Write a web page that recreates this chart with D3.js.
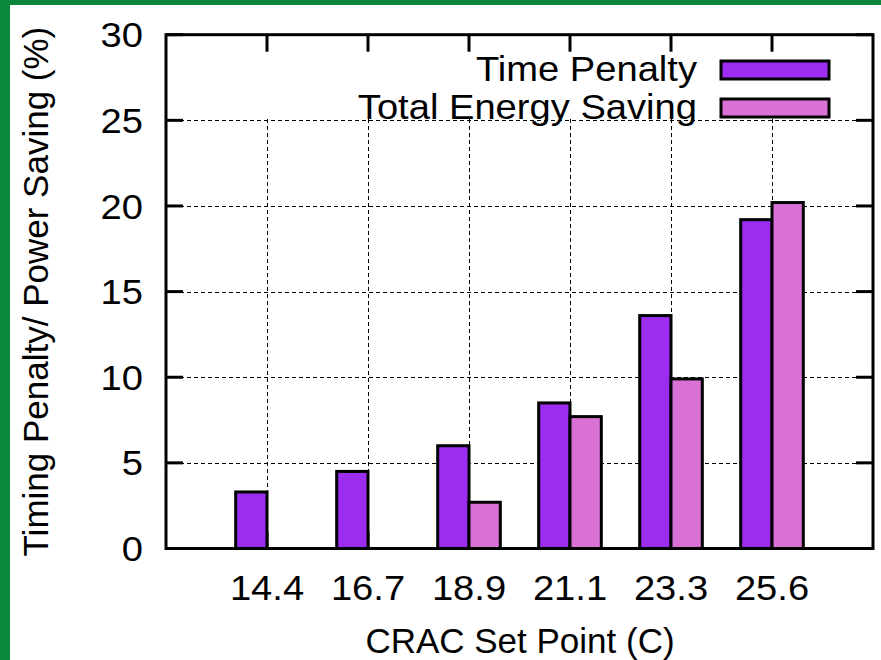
<!DOCTYPE html>
<html>
<head>
<meta charset="utf-8">
<script src="https://cdn.jsdelivr.net/npm/d3@7"></script>
<style>
  body { margin: 0; background: #fff; }
  text { font-family: "Liberation Sans", Arial, sans-serif; fill: #000; }
</style>
</head>
<body>
<div id="chart"></div>
<script>
// data
var setPoints = ["14.4", "16.7", "18.9", "21.1", "23.3", "25.6"];
var timePenalty = [3.3, 4.5, 6.0, 8.5, 13.6, 19.2];
var energySaving = [0, 0, 2.7, 7.7, 9.9, 20.2];
var seriesNames = ["Time Penalty", "Total Energy Saving"];
var seriesColors = ["#9b2cf0", "#da72d6"];
var yTicks = [0, 5, 10, 15, 20, 25, 30];

var W = 881, H = 660;
var plot = { left: 166, top: 34.7, right: 873, bottom: 548.5 };
var fontSize = 35;
var stretch = 1.09; // tick and key text is a bit wider than it is tall

var svg = d3.select("#chart").append("svg")
  .attr("width", W)
  .attr("height", H);

svg.append("rect").attr("width", W).attr("height", H).attr("fill", "#fff");
// green frame on the left and top edges
svg.append("rect").attr("x", 0).attr("y", 0).attr("width", 10).attr("height", H).attr("fill", "#0a873c");
svg.append("rect").attr("x", 0).attr("y", 0).attr("width", W).attr("height", 5).attr("fill", "#0a873c");

// x positions: category index, one empty slot at each side
var x = d3.scaleLinear().domain([-1, setPoints.length]).range([plot.left, plot.right]);
var y = d3.scaleLinear().domain([0, 30]).range([plot.bottom, plot.top]);
var barW = x(0.31) - x(0);

function label(g, px, py, anchor, txt, sx) {
  return g.append("text")
    .attr("transform", "translate(" + px + "," + py + ") scale(" + (sx || stretch) + ",1)")
    .attr("text-anchor", anchor)
    .style("font-size", fontSize + "px")
    .text(txt);
}

// grid
var grid = svg.append("g")
  .attr("stroke", "#000").attr("stroke-width", 1)
  .attr("stroke-dasharray", "4,3")
  .attr("shape-rendering", "crispEdges");
grid.selectAll(".hg").data(yTicks.slice(1, -1)).enter().append("line")
  .attr("x1", plot.left).attr("x2", plot.right)
  .attr("y1", d => Math.round(y(d)) + 0.5).attr("y2", d => Math.round(y(d)) + 0.5);
grid.selectAll(".vg").data(setPoints).enter().append("line")
  .attr("x1", (d, i) => Math.round(x(i)) + 0.5).attr("x2", (d, i) => Math.round(x(i)) + 0.5)
  .attr("y1", plot.top).attr("y2", plot.bottom);

// the key hides the grid behind it
svg.append("rect")
  .attr("x", x(0) - 0.5).attr("y", plot.top)
  .attr("width", 852 - x(0)).attr("height", y(25) - plot.top - 1.5)
  .attr("fill", "#fff");

// ticks (inward, mirrored)
var tickLen = 17;
var ticks = svg.append("g").attr("stroke", "#000").attr("stroke-width", 3);
yTicks.forEach(function (t) {
  ticks.append("line").attr("x1", plot.left).attr("x2", plot.left + tickLen).attr("y1", y(t)).attr("y2", y(t));
  ticks.append("line").attr("x1", plot.right).attr("x2", plot.right - tickLen).attr("y1", y(t)).attr("y2", y(t));
});
setPoints.forEach(function (s, i) {
  ticks.append("line").attr("x1", x(i)).attr("x2", x(i)).attr("y1", plot.top).attr("y2", plot.top + tickLen);
  ticks.append("line").attr("x1", x(i)).attr("x2", x(i)).attr("y1", plot.bottom).attr("y2", plot.bottom - tickLen);
});

// bars
var bars = svg.append("g").attr("stroke", "#000").attr("stroke-width", 3);
[timePenalty, energySaving].forEach(function (vals, k) {
  bars.selectAll(".b" + k).data(vals).enter().append("rect")
    .attr("x", (d, i) => x(i) + (k - 1) * barW)
    .attr("y", d => y(d))
    .attr("width", barW)
    .attr("height", d => y(0) - y(d))
    .attr("fill", seriesColors[k]);
});

// border
svg.append("rect")
  .attr("x", plot.left).attr("y", plot.top)
  .attr("width", plot.right - plot.left).attr("height", plot.bottom - plot.top)
  .attr("fill", "none").attr("stroke", "#000").attr("stroke-width", 3);

// tick labels
var yLabels = svg.append("g");
yTicks.forEach(function (t) { label(yLabels, 143, y(t) + fontSize * 0.36, "end", t); });

var xLabels = svg.append("g");
setPoints.forEach(function (s, i) { label(xLabels, x(i), 600, "middle", s); });

// axis titles
label(svg, 520, 653, "middle", "CRAC Set Point (C)", 1);

svg.append("text")
  .attr("transform", "translate(48," + ((plot.top + plot.bottom) / 2) + ") rotate(-90)")
  .attr("text-anchor", "middle")
  .style("font-size", fontSize + "px")
  .text("Timing Penalty/ Power Saving (%)");

// key
var key = svg.append("g");
seriesNames.forEach(function (name, k) {
  var by = 81 + k * 38;
  label(key, 697, by, "end", name);
  key.append("rect")
    .attr("x", 721).attr("y", by - 20)
    .attr("width", 108).attr("height", 18)
    .attr("fill", seriesColors[k])
    .attr("stroke", "#000").attr("stroke-width", 3);
});
</script>
</body>
</html>
